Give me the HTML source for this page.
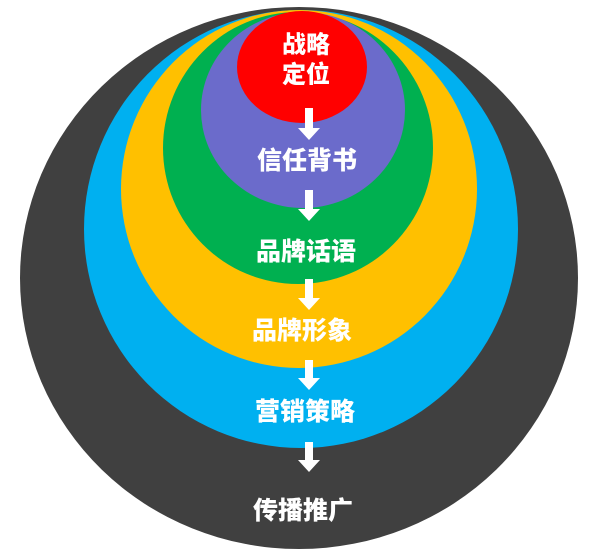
<!DOCTYPE html>
<html><head><meta charset="utf-8"><style>
html,body{margin:0;padding:0;background:#fff;}
svg text{font-family:"Liberation Sans","Noto Sans CJK SC",sans-serif;font-weight:900;fill:#fff;text-anchor:middle;dominant-baseline:central;}
</style></head><body>
<svg width="601" height="552" viewBox="0 0 601 552" xmlns="http://www.w3.org/2000/svg">
<ellipse cx="299" cy="278" rx="279" ry="271" fill="#404040"/>
<ellipse cx="301" cy="229" rx="217" ry="219" fill="#00b0f0"/>
<ellipse cx="299" cy="189" rx="178" ry="179" fill="#ffc000"/>
<ellipse cx="298" cy="148" rx="135" ry="136" fill="#00b050"/>
<ellipse cx="303" cy="110" rx="102" ry="98" fill="#6b6bcb"/>
<ellipse cx="302" cy="67" rx="65" ry="56" fill="#ff0000"/>
<g fill="#fff">
<polygon points="305,108 313,108 313,128 320,128 309,140 298,128 305,128"/>
<polygon points="305,190 313,190 313,209 320,209 309,221 298,209 305,209"/>
<polygon points="305,279 313,279 313,298 320,298 309,310 298,298 305,298"/>
<polygon points="305,360 313,360 313,378 320,378 309,390 298,378 305,378"/>
<polygon points="305,442 313,442 313,460 320,460 309,472 298,460 305,460"/>
</g>
<text x="306" y="45" font-size="24">战略</text>
<text x="306" y="75" font-size="24">定位</text>
<text x="307" y="161" font-size="25">信任背书</text>
<text x="306" y="252" font-size="25">品牌话语</text>
<text x="302" y="331" font-size="25">品牌形象</text>
<text x="305" y="412" font-size="25">营销策略</text>
<text x="303" y="511" font-size="25">传播推广</text>
</svg>
</body></html>
